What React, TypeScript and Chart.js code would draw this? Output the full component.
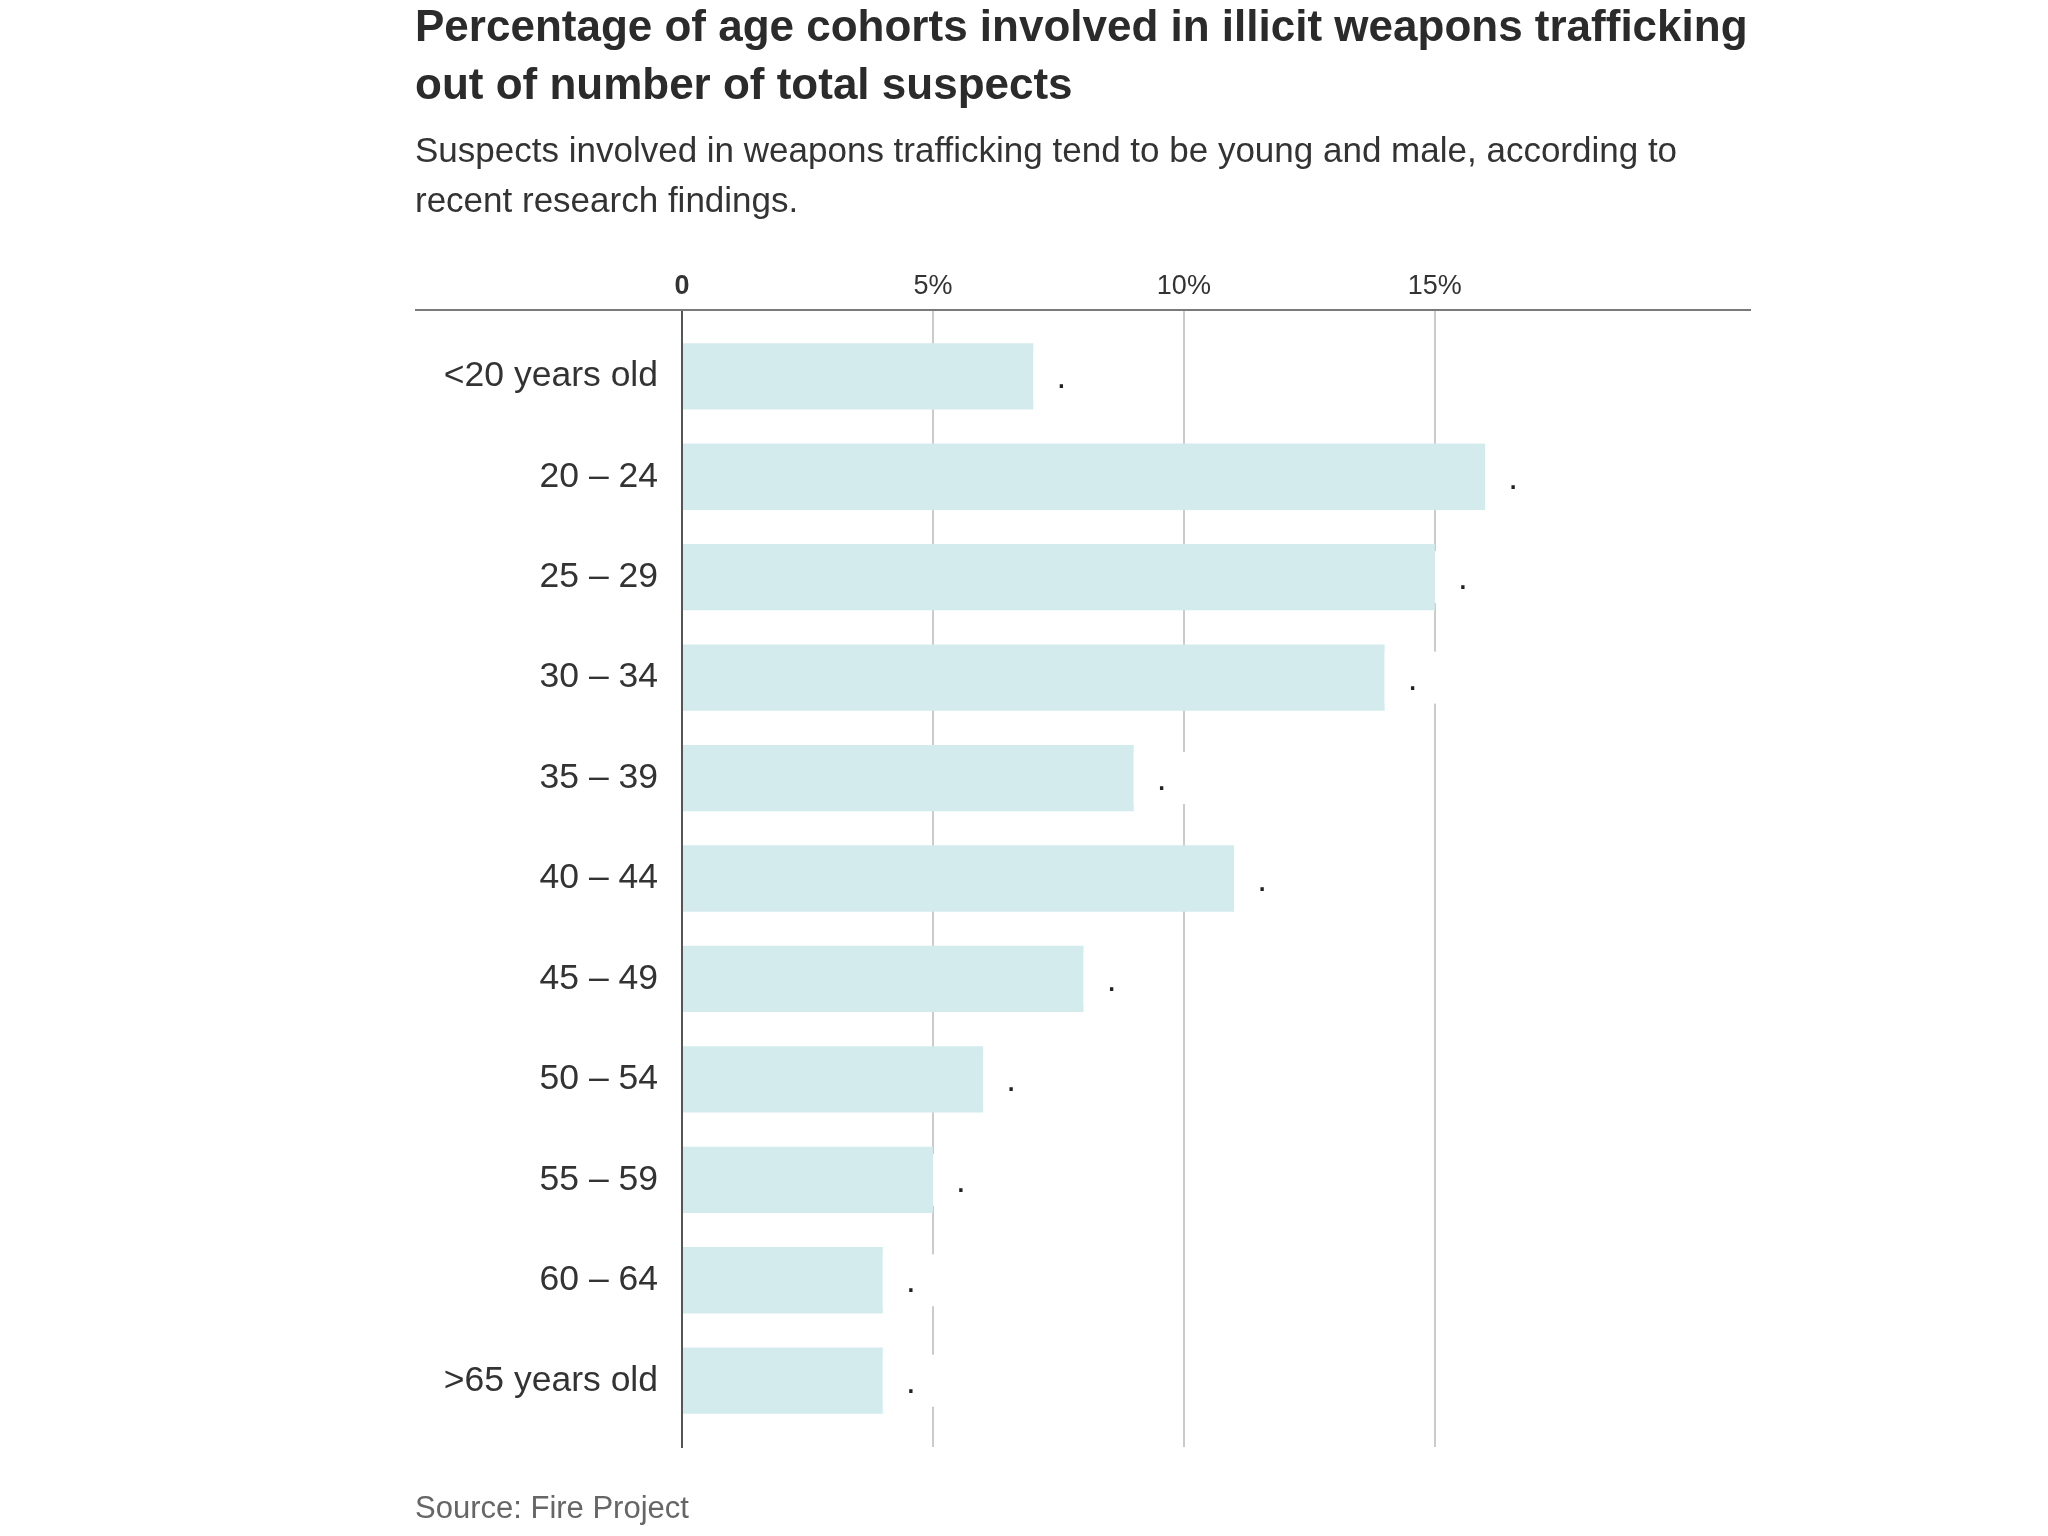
import React, { useEffect, useRef } from "react";
import { Chart, registerables } from "chart.js";

Chart.register(...registerables);

const titleLines = [
  "Percentage of age cohorts involved in illicit weapons trafficking",
  "out of number of total suspects",
];
const subtitleLines = [
  "Suspects involved in weapons trafficking tend to be young and male, according to",
  "recent research findings.",
];
const sourceText = "Source: Fire Project";

const categories = [
  "<20 years old",
  "20 – 24",
  "25 – 29",
  "30 – 34",
  "35 – 39",
  "40 – 44",
  "45 – 49",
  "50 – 54",
  "55 – 59",
  "60 – 64",
  ">65 years old",
];
const shares = [7, 16, 15, 14, 9, 11, 8, 6, 5, 4, 4];
const valueLabels = [".", ".", ".", ".", ".", ".", ".", ".", ".", ".", "."];
const xTickValues = [0, 5, 10, 15];
const xTickLabels = ["0", "5%", "10%", "15%"];

const FAMILY = "'Liberation Sans', Arial, sans-serif";
const PAD_LEFT = 415;
const PAD_RIGHT = 297;

const decorPlugin = {
  id: "decor",
  afterDatasetsDraw(chart: any) {
    const ctx = chart.ctx;
    const meta = chart.getDatasetMeta(0);
    ctx.save();
    meta.data.forEach((bar: any, i: number) => {
      ctx.fillStyle = "#ffffff";
      ctx.fillRect(bar.x, bar.y - 26, 60, 52);
      ctx.fillStyle = "#222222";
      ctx.font = `35px ${FAMILY}`;
      ctx.textAlign = "center";
      ctx.textBaseline = "alphabetic";
      ctx.fillText(valueLabels[i], bar.x + 28, bar.y + 12);
    });
    ctx.restore();
  },
  afterDraw(chart: any) {
    const ctx = chart.ctx;
    const area = chart.chartArea;
    ctx.save();
    ctx.strokeStyle = "#7a7a7a";
    ctx.lineWidth = 2;
    ctx.beginPath();
    ctx.moveTo(PAD_LEFT, area.top);
    ctx.lineTo(area.right, area.top);
    ctx.stroke();
    ctx.fillStyle = "#666666";
    ctx.font = `31px ${FAMILY}`;
    ctx.textAlign = "left";
    ctx.textBaseline = "alphabetic";
    ctx.fillText(sourceText, PAD_LEFT, 1518);
    ctx.restore();
  },
};

export default function App() {
  const ref = useRef<HTMLCanvasElement | null>(null);

  useEffect(() => {
    if (!ref.current) return;
    const chart = new Chart(ref.current, {
      type: "bar",
      data: {
        labels: categories,
        datasets: [
          {
            label: "Share of suspects",
            data: shares.map((v, i) => ({ x: v, y: i })),
            backgroundColor: "#d4ebed",
            borderWidth: 0,
            barPercentage: 0.66,
            categoryPercentage: 1,
          },
        ],
      },
      options: {
        indexAxis: "y",
        animation: false,
        responsive: false,
        maintainAspectRatio: false,
        layout: {
          padding: { left: PAD_LEFT, right: PAD_RIGHT, top: 0, bottom: 89 },
        },
        plugins: {
          legend: { display: false },
          tooltip: { enabled: false },
          title: {
            display: true,
            text: titleLines,
            align: "start",
            color: "#2b2b2b",
            font: { family: FAMILY, size: 44, weight: "bold", lineHeight: "58px" },
            padding: { top: 0, bottom: 11.5 },
          },
          subtitle: {
            display: true,
            text: subtitleLines,
            align: "start",
            color: "#333333",
            font: { family: FAMILY, size: 35, weight: "normal", lineHeight: "50px" },
            padding: { top: 0, bottom: 22.5 },
          },
        },
        scales: {
          x: {
            type: "linear",
            position: "top",
            min: 0,
            max: 21.3,
            offset: false,
            afterBuildTicks: (scale: any) => {
              scale.ticks = xTickValues.map((v) => ({ value: v }));
            },
            afterFit: (scale: any) => {
              scale.height = 60;
            },
            ticks: {
              padding: 7,
              color: "#333333",
              font: (c: any) => ({
                family: FAMILY,
                size: 27,
                weight: c.tick && c.tick.value === 0 ? "bold" : "normal",
              }),
              callback: (value: any) => {
                const idx = xTickValues.indexOf(Number(value));
                return idx >= 0 ? xTickLabels[idx] : "";
              },
            },
            grid: {
              drawTicks: false,
              offset: false,
              lineWidth: 2,
              color: (c: any) =>
                c.tick && c.tick.value === 0 ? "rgba(0,0,0,0)" : "#cbcbcb",
            },
            border: { display: false },
          },
          y: {
            type: "linear",
            reverse: true,
            offset: false,
            min: -0.66,
            max: categories.length - 1 + 0.66,
            z: 1,
            afterBuildTicks: (scale: any) => {
              scale.ticks = categories.map((_, i) => ({ value: i }));
            },
            afterFit: (scale: any) => {
              scale.width = 267;
            },
            ticks: {
              padding: 24,
              color: "#333333",
              font: { family: FAMILY, size: 35.5 },
              callback: (value: any) => categories[Math.round(Number(value))] ?? "",
            },
            grid: { display: false, drawTicks: false, offset: false },
            border: { display: true, color: "#555555", width: 2 },
          },
        },
      },
      plugins: [decorPlugin],
    } as any);
    return () => chart.destroy();
  }, []);

  return (
    <div
      style={{
        position: "fixed",
        left: 0,
        top: 0,
        width: 2048,
        height: 1536,
        background: "#ffffff",
      }}
    >
      <canvas ref={ref} width={2048} height={1536} style={{ width: 2048, height: 1536 }} />
    </div>
  );
}
